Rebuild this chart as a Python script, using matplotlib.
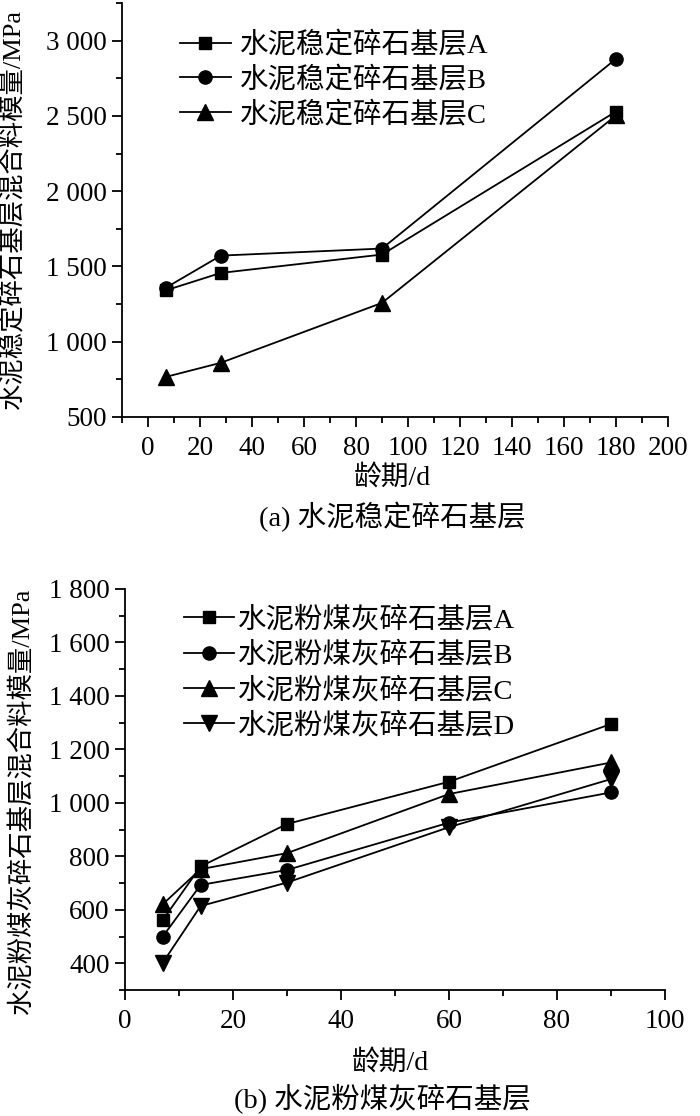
import matplotlib
matplotlib.use("Agg")
import matplotlib.pyplot as plt
from matplotlib.ticker import MultipleLocator, FuncFormatter

plt.rcParams['font.family'] = ['Liberation Serif', 'Noto Sans CJK SC', 'DejaVu Sans']
plt.rcParams['axes.unicode_minus'] = False

# (a) data
ages_a = [7, 28, 90, 180]
a_A = [1342, 1457, 1579, 2529]
a_B = [1360, 1572, 1619, 2879]
a_C = [767, 860, 1258, 2503]
labels_a = ['水泥稳定碎石基层A', '水泥稳定碎石基层B', '水泥稳定碎石基层C']

# (b) data
ages_b = [7, 14, 30, 60, 90]
b_A = [562, 762, 921, 1079, 1295]
b_B = [500, 693, 749, 926, 1039]
b_C = [621, 752, 812, 1033, 1151]
b_D = [402, 614, 702, 909, 1089]
labels_b = ['水泥粉煤灰碎石基层A', '水泥粉煤灰碎石基层B', '水泥粉煤灰碎石基层C', '水泥粉煤灰碎石基层D']

fig = plt.figure(figsize=(7, 11.16), dpi=100)

def fmt(v, pos):
    return f"{int(round(v)):,}".replace(',', ' ')

FS_TICK = 19.5
FS_LAB = 20
FS_YLAB = 19
FS_LEG = 20.5
FS_CAP = 20.5

def style(ax):
    for s in ['top', 'right']:
        ax.spines[s].set_visible(False)
    for s in ['left', 'bottom']:
        ax.spines[s].set_linewidth(1.3)
    ax.tick_params(which='major', direction='out', length=7, width=1.3, labelsize=FS_TICK)
    ax.tick_params(axis='x', which='major', pad=7)
    ax.tick_params(axis='y', which='major', pad=4)
    ax.tick_params(which='minor', direction='out', length=4, width=1.3)
    ax.yaxis.set_major_formatter(FuncFormatter(fmt))

kw = dict(color='black', lw=1.3)
MS_S, MS_O, MS_T = 8.5, 9.5, 11.5

ax1 = fig.add_axes([122/700, 1-417/1116, (668-122)/700, (417-3)/1116])
ax1.plot(ages_a, a_A, marker='s', ms=MS_S, label=labels_a[0], **kw)
ax1.plot(ages_a, a_B, marker='o', ms=MS_O, label=labels_a[1], **kw)
ax1.plot(ages_a, a_C, marker='^', ms=MS_T, label=labels_a[2], **kw)
ax1.set_xlim(-10, 200)
ax1.set_ylim(500, 3250)
ax1.xaxis.set_major_locator(MultipleLocator(20))
ax1.xaxis.set_minor_locator(MultipleLocator(10))
ax1.set_yticks([500, 1000, 1500, 2000, 2500, 3000])
ax1.yaxis.set_minor_locator(MultipleLocator(250))
style(ax1)
ax1.set_xlabel('龄期/d', fontsize=FS_LAB)
ax1.xaxis.set_label_coords((392-122)/546, -(478-417)/414)
ax1.xaxis.label.set_va('center')
ax1.set_ylabel('水泥稳定碎石基层混合料模量/MPa', fontsize=FS_YLAB)
ax1.yaxis.set_label_coords((13-122)/546, 0.5)
ax1.yaxis.label.set_va('center')
ax1.legend(loc='upper left', bbox_to_anchor=(0.085, 0.958), frameon=False, fontsize=FS_LEG,
           handlelength=1.8, handletextpad=0.3, labelspacing=0.27, borderaxespad=0)
fig.text(392/700, 1-517/1116, '(a) 水泥稳定碎石基层', ha='center', va='center', fontsize=FS_CAP)

ax2 = fig.add_axes([125/700, 1-990/1116, (665-125)/700, (990-589)/1116])
ax2.plot(ages_b, b_A, marker='s', ms=MS_S, label=labels_b[0], **kw)
ax2.plot(ages_b, b_B, marker='o', ms=MS_O, label=labels_b[1], **kw)
ax2.plot(ages_b, b_C, marker='^', ms=MS_T, label=labels_b[2], **kw)
ax2.plot(ages_b, b_D, marker='v', ms=MS_T, label=labels_b[3], **kw)
ax2.set_xlim(0, 100)
ax2.set_ylim(300, 1800)
ax2.xaxis.set_major_locator(MultipleLocator(20))
ax2.xaxis.set_minor_locator(MultipleLocator(10))
ax2.set_yticks([400, 600, 800, 1000, 1200, 1400, 1600, 1800])
ax2.yaxis.set_minor_locator(MultipleLocator(100))
style(ax2)
ax2.set_xlabel('龄期/d', fontsize=FS_LAB)
ax2.xaxis.set_label_coords((390-125)/540, -(1063-990)/401)
ax2.xaxis.label.set_va('center')
ax2.set_ylabel('水泥粉煤灰碎石基层混合料模量/MPa', fontsize=FS_YLAB)
ax2.yaxis.set_label_coords((22-125)/540, 0.47)
ax2.yaxis.label.set_va('center')
ax2.legend(loc='upper left', bbox_to_anchor=(0.088, 0.985), frameon=False, fontsize=FS_LEG,
           handlelength=1.75, handletextpad=0.15, labelspacing=0.3, borderaxespad=0)
fig.text(382/700, 1-1099/1116, '(b) 水泥粉煤灰碎石基层', ha='center', va='center', fontsize=FS_CAP)

fig.savefig('out.png', dpi=100)
